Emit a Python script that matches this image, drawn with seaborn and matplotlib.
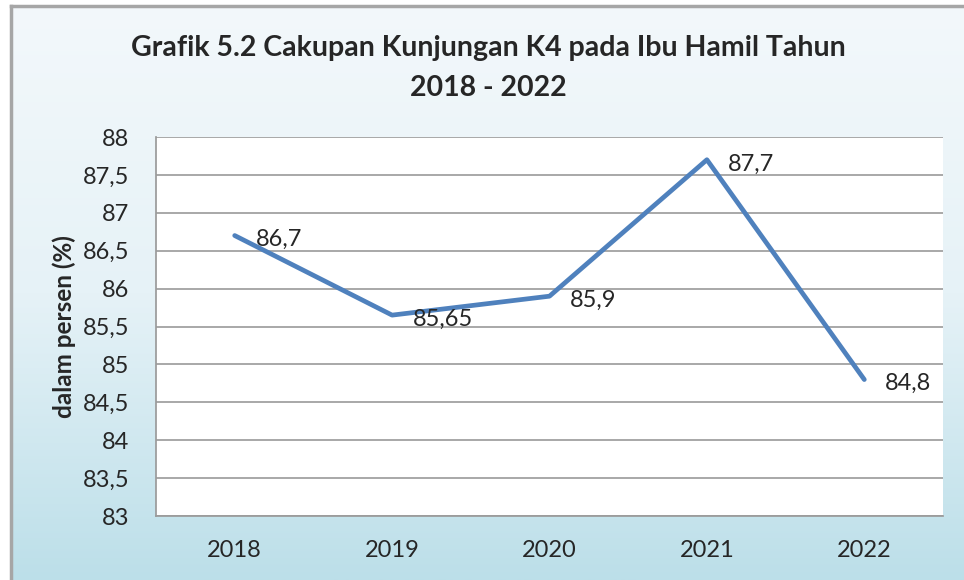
import numpy as np
import pandas as pd
import seaborn as sns
import matplotlib.pyplot as plt
from matplotlib.colors import LinearSegmentedColormap

# data
tahun = ["2018", "2019", "2020", "2021", "2022"]
cakupan_k4 = [86.7, 85.65, 85.9, 87.7, 84.8]
y_ticks = [83, 83.5, 84, 84.5, 85, 85.5, 86, 86.5, 87, 87.5, 88]

df = pd.DataFrame({"tahun": tahun, "cakupan": cakupan_k4})

sns.set_theme(style="white")
plt.rcParams["font.family"] = ["Lato", "DejaVu Sans"]

fig = plt.figure(figsize=(9.64, 5.8), dpi=100)
fig.patch.set_facecolor("white")

# background panel with light blue gradient (like the excel chart area)
bg = fig.add_axes([11 / 964, 0, 1 - 11 / 964, 1 - 6 / 580], zorder=-5)
grad = np.linspace(0, 1, 256).reshape(-1, 1)
cmap = LinearSegmentedColormap.from_list("bg", ["#f3f8fb", "#e6f2f7", "#bcdfe9"])
bg.imshow(grad, aspect="auto", cmap=cmap, extent=[0, 1, 0, 1], origin="upper")
bg.set_xticks([])
bg.set_yticks([])
for s in ["right", "bottom"]:
    bg.spines[s].set_visible(False)
for s in ["left", "top"]:
    bg.spines[s].set_color("#a6a6a6")
    bg.spines[s].set_linewidth(2.5)

ax = fig.add_axes([156 / 964, 1 - 516 / 580, (943 - 156) / 964, (516 - 137) / 580])
ax.set_facecolor("white")

sns.lineplot(data=df, x="tahun", y="cakupan", ax=ax, color="#4f81bd",
             linewidth=3.4, sort=False)

for i, v in enumerate(cakupan_k4):
    ax.annotate(str(v).replace(".", ","), (i, v), xytext=(15, -3),
                textcoords="offset points", ha="left", va="center",
                fontsize=17, color="#262626")

ax.set_xlim(-0.5, 4.5)
ax.set_ylim(83, 88)
ax.set_yticks(y_ticks)
ax.set_yticklabels([("%g" % t).replace(".", ",") for t in y_ticks])
ax.grid(axis="y", color="#9a9a9a", linewidth=1.2)
ax.tick_params(axis="both", length=0, labelsize=17, colors="#262626")
ax.tick_params(axis="x", pad=17)
ax.tick_params(axis="y", pad=19)
for s in ax.spines.values():
    s.set_visible(False)
ax.spines["left"].set_visible(True)
ax.spines["left"].set_color("#9a9a9a")
ax.spines["bottom"].set_visible(True)
ax.spines["bottom"].set_color("#9a9a9a")

ax.set_xlabel("")
ax.set_ylabel("dalam persen (%)", fontsize=17.5, fontweight="bold", color="#262626", labelpad=5)

fig.text(0.507, 1 - 48 / 580, "Grafik 5.2 Cakupan Kunjungan K4 pada Ibu Hamil Tahun",
         ha="center", va="center", fontsize=20.5, fontweight="bold", color="#262626")
fig.text(0.507, 1 - 88 / 580, "2018 - 2022",
         ha="center", va="center", fontsize=20.5, fontweight="bold", color="#262626")

fig.savefig("out.png", dpi=100)
